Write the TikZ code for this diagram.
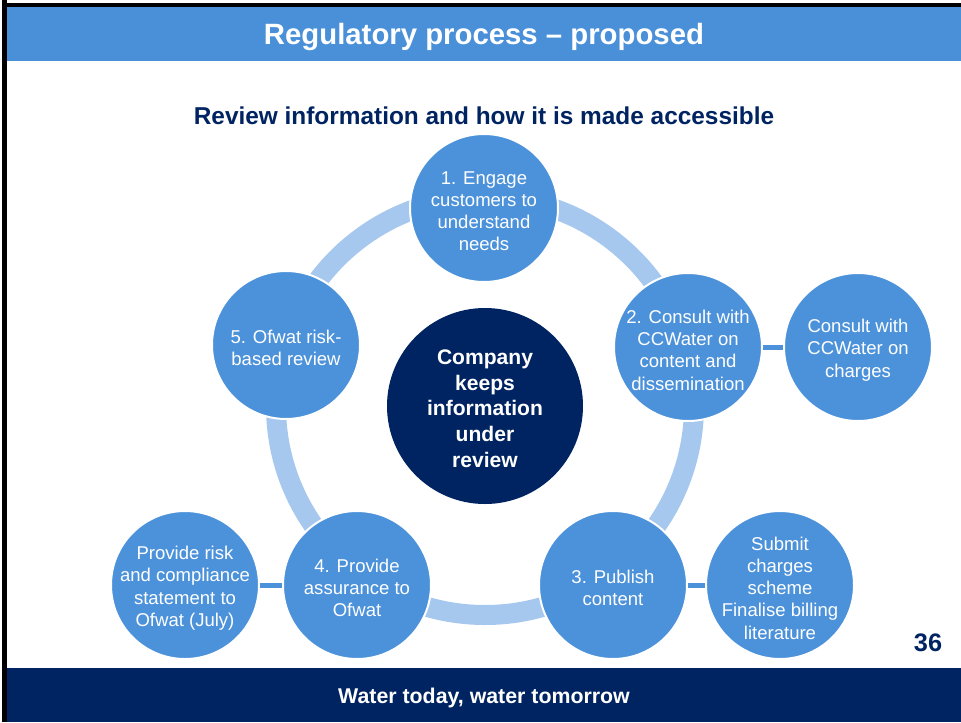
\documentclass[tikz,border=0pt]{standalone}
\usepackage{fontspec}
\setmainfont{Liberation Sans}
\definecolor{hdrblue}{RGB}{74,144,217}
\definecolor{stageblue}{RGB}{76,146,218}
\definecolor{ringblue}{RGB}{166,200,238}
\definecolor{navy}{RGB}{0,36,98}
\begin{document}
\begin{tikzpicture}[x=0.75pt,y=-0.75pt,
  stage/.style={circle, fill=stageblue, draw=white, line width=1.5pt,
    minimum size=111pt, inner sep=0pt},
  stagetext/.style={align=center, text=white, inner sep=0pt, yshift=-2.4pt,
    font=\fontsize{13.9}{16.6}\selectfont},
  hub/.style={circle, fill=navy, minimum size=147pt, inner sep=0pt},
  hubtext/.style={align=center, text=white, inner sep=0pt, yshift=-1.9pt,
    font=\fontsize{15.8}{19.3}\selectfont\bfseries},
  link/.style={stageblue, line width=3.75pt},
  ring/.style={ringblue, line width=15pt}
]
\useasboundingbox (0,0) rectangle (961,722);
\fill[white] (0,0) rectangle (961,722);

% slide frame, header band and footer band
\fill[hdrblue] (7,7) rectangle (961,61);
\fill[navy] (7,668) rectangle (961,722);
\fill[black] (2,0) rectangle (7,722);
\fill[black] (2,3) rectangle (961,7);

\node[anchor=base, text=white, font=\fontsize{22}{26}\selectfont\bfseries]
  (title) at (484,44) {Regulatory process -- proposed};
\node[anchor=base, text=navy, font=\fontsize{18.3}{22}\selectfont\bfseries]
  (subtitle) at (484,124) {Review information and how it is made accessible};
\node[anchor=base, text=white, font=\fontsize{16}{19}\selectfont\bfseries]
  (footer) at (484,703) {Water today, water tomorrow};
\node[anchor=base, text=navy, font=\fontsize{19}{22}\selectfont\bfseries]
  (pageno) at (928,651) {36};

% cycle ring behind the stages
\draw[ring] (485,406) circle[radius=209];

% central hub
\node[hub, label={[hubtext]center:{Company\\keeps\\information\\under\\review}}]
  (hub) at (485,406) {};

% side stages and their links
\coordinate (p2) at (688,347);
\coordinate (p3) at (613,585);
\coordinate (p4) at (357,585);
\coordinate (sc) at (858,347);
\coordinate (ss) at (780,585);
\coordinate (sr) at (185,585);
\draw[link] (p2) -- (sc);
\draw[link] (p3) -- (ss);
\draw[link] (p4) -- (sr);

% process stages
\node[stage, label={[stagetext]center:{1. Engage\\customers to\\understand\\needs}}]
  (s1) at (484,208) {};
\node[stage, label={[stagetext]center:{2. Consult with\\CCWater on\\content and\\dissemination}}]
  (s2) at (p2) {};
\node[stage, label={[stagetext]center:{3. Publish\\content}}]
  (s3) at (p3) {};
\node[stage, label={[stagetext]center:{4. Provide\\assurance to\\Ofwat}}]
  (s4) at (p4) {};
\node[stage, label={[stagetext]center:{5. Ofwat risk-\\based review}}]
  (s5) at (286,345) {};

\node[stage, label={[stagetext]center:{Consult with\\CCWater on\\charges}}]
  (charges) at (sc) {};
\node[stage, label={[stagetext]center:{Submit\\charges\\scheme\\Finalise billing\\literature}}]
  (submit) at (ss) {};
\node[stage, label={[stagetext]center:{Provide risk\\and compliance\\statement to\\Ofwat (July)}}]
  (risk) at (sr) {};
\end{tikzpicture}
\end{document}
